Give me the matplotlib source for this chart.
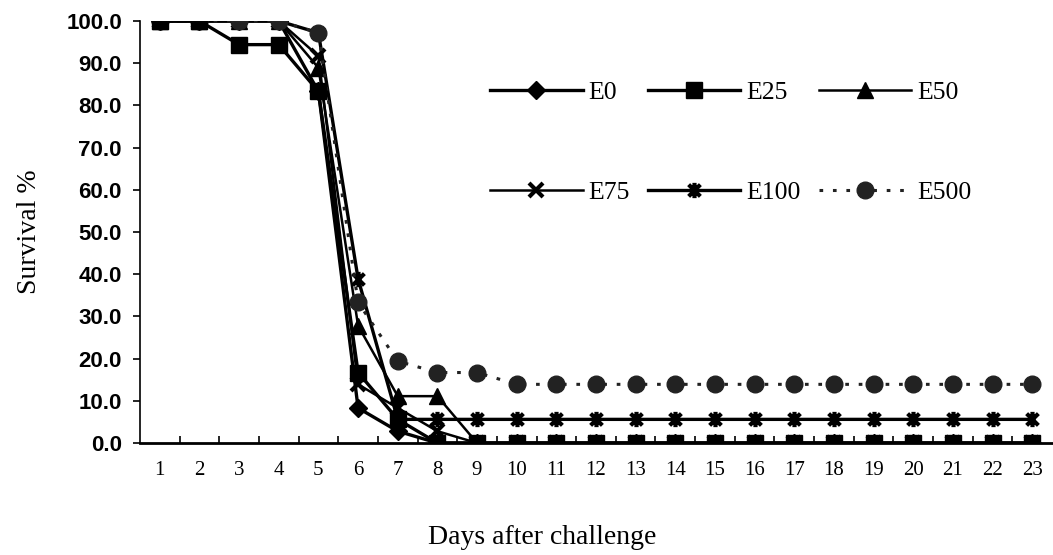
import matplotlib
matplotlib.use("Agg")
import matplotlib.pyplot as plt
from matplotlib.path import Path
import numpy as np

days = list(range(1, 24))
E0 = [100, 100, 100, 100, 83.3, 8.3, 2.8, 0, 0, 0, 0, 0, 0, 0, 0, 0, 0, 0, 0, 0, 0, 0, 0]
E25 = [100, 100, 94.4, 94.4, 83.3, 16.7, 5.6, 0, 0, 0, 0, 0, 0, 0, 0, 0, 0, 0, 0, 0, 0, 0, 0]
E50 = [100, 100, 100, 100, 88.9, 27.8, 11.1, 11.1, 0, 0, 0, 0, 0, 0, 0, 0, 0, 0, 0, 0, 0, 0, 0]
E75 = [100, 100, 100, 100, 91.7, 13.9, 8.3, 2.8, 0, 0, 0, 0, 0, 0, 0, 0, 0, 0, 0, 0, 0, 0, 0]
E100 = [100, 100, 100, 100, 97.2, 38.9, 5.6, 5.6, 5.6, 5.6, 5.6, 5.6, 5.6, 5.6, 5.6, 5.6, 5.6, 5.6, 5.6, 5.6, 5.6, 5.6, 5.6]
E500 = [100, 100, 100, 100, 97.2, 33.3, 19.4, 16.7, 16.7, 13.9, 13.9, 13.9, 13.9, 13.9, 13.9, 13.9, 13.9, 13.9, 13.9, 13.9, 13.9, 13.9, 13.9]
yticks = [0, 10, 20, 30, 40, 50, 60, 70, 80, 90, 100]

# Excel-like star marker: an X plus a vertical bar
star = Path([(-1, -1), (1, 1), (-1, 1), (1, -1), (0, -1.3), (0, 1.3)],
            [Path.MOVETO, Path.LINETO, Path.MOVETO, Path.LINETO, Path.MOVETO, Path.LINETO])

fig = plt.figure(figsize=(10.53, 5.55), dpi=100)
ax = fig.add_axes([140 / 1053, 1 - 443 / 555, 912 / 1053, (443 - 21) / 555])

col = "black"
h0, = ax.plot(days, E0, color=col, lw=2.4, marker="D", ms=9, label="E0", zorder=3)
h50, = ax.plot(days, E50, color=col, lw=1.8, marker="^", ms=11, label="E50", zorder=3)
h75, = ax.plot(days, E75, color=col, lw=1.8, marker="x", ms=10, mew=3, label="E75", zorder=3)
h100, = ax.plot(days, E100, color=col, lw=2.4, marker=star, ms=11, mew=3, label="E100", zorder=3)
h500, = ax.plot(days, E500, color="#222222", lw=2.2, ls=(0, (1.2, 3.2)), marker="o", ms=12,
                label="E500", zorder=3)
h25, = ax.plot(days, E25, color=col, lw=2.4, marker="s", ms=11, label="E25", zorder=4)

ax.set_xlim(0.5, 23.5)
ax.set_ylim(0, 100)
ax.set_yticks(yticks)
ax.set_yticklabels([f"{v:.1f}" for v in yticks], fontfamily="Liberation Sans",
                   fontweight="bold", fontsize=16)
ax.tick_params(axis="y", direction="out", length=5, width=1.2, pad=8)
ax.set_xticks(days)
ax.set_xticklabels([str(d) for d in days], fontfamily="Liberation Serif", fontsize=15)
ax.tick_params(axis="x", which="major", length=0, pad=13)
ax.set_xticks(np.arange(1.5, 23.5, 1), minor=True)
ax.tick_params(axis="x", which="minor", direction="in", length=5, width=1.2)

for s in ["top", "right"]:
    ax.spines[s].set_visible(False)
ax.spines["left"].set_linewidth(1.2)
ax.spines["bottom"].set_linewidth(2)

ax.set_ylabel("Survival %", fontfamily="Liberation Serif", fontsize=20, va="center")
ax.yaxis.set_label_coords(-0.121, 0.5)
ax.set_xlabel("Days after challenge", fontfamily="Liberation Serif", fontsize=20, va="center")
ax.xaxis.set_label_coords(0.441, -0.223)

handles = [h0, h75, h25, h100, h50, h500]
labels = ["E0", "E75", "E25", "E100", "E50", "E500"]
leg = ax.legend(handles, labels, ncol=3, loc="upper left", bbox_to_anchor=(0.384, 0.857),
                borderaxespad=0, borderpad=0, frameon=False,
                handlelength=3.6, handletextpad=0.23, columnspacing=0.7,
                labelspacing=3.0, prop={"family": "Liberation Serif", "size": 18.5})

fig.savefig("out.png", dpi=100)
